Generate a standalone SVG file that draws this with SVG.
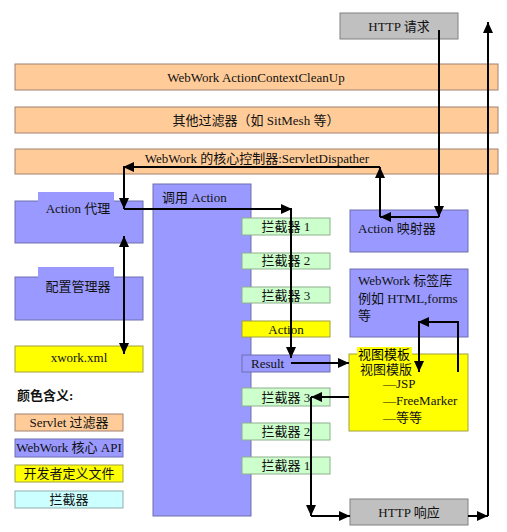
<svg xmlns="http://www.w3.org/2000/svg" width="507" height="532" viewBox="0 0 507 532">
<defs>
<marker id="ah" markerUnits="userSpaceOnUse" markerWidth="11" markerHeight="10" refX="11" refY="5" orient="auto-start-reverse"><path d="M0,0 L11,5 L0,10 z" fill="#000"/></marker>
<style>
text{font-family:"Liberation Serif","Noto Sans CJK SC",serif;font-size:13px;fill:#111}
.c{text-anchor:middle}
.or{fill:#FFCC99;stroke:#A08070;stroke-width:1}
.bl{fill:#9999FF;stroke:#6F6FAF;stroke-width:1}
.ye{fill:#FFFF00;stroke:#A0A040;stroke-width:1}
.gr{fill:#CCFFCC;stroke:#8FAF8F;stroke-width:1}
.cy{fill:#CCFFFF;stroke:#8FAFAF;stroke-width:1}
.gy{fill:#C0C0C0;stroke:#808080;stroke-width:1}
.cn path{fill:none;stroke:#000;stroke-width:2;marker-end:url(#ah)}
.sans{font-family:"Noto Sans CJK SC","Noto Sans",sans-serif}
</style>
</defs>
<rect width="507" height="532" fill="#fff"/>
<g id="http-req"><rect class="gy" x="340" y="13" width="118" height="26"/><text class="c" x="399" y="31">HTTP 请求</text></g>
<g id="cleanup"><rect class="or" x="15" y="64" width="483" height="26"/><text class="c" x="256" y="82">WebWork ActionContextCleanUp</text></g>
<g id="filters"><rect class="or" x="15" y="107" width="483" height="26"/><text class="c" x="256" y="125">其他过滤器（如 SitMesh 等）</text></g>
<g id="dispatcher"><rect class="or" x="15" y="149" width="483" height="25"/><text class="c" x="257" y="163">WebWork 的核心控制器:ServletDispather</text></g>
<g id="proxy"><rect class="bl" x="15" y="201" width="128" height="42"/><rect x="38" y="192" width="76" height="10" fill="#9999FF"/><text class="c" x="78" y="213">Action 代理</text></g>
<g id="config"><rect class="bl" x="15" y="277" width="128" height="43"/><rect x="38" y="267" width="76" height="11" fill="#9999FF"/><text class="c sans" x="78" y="291" font-size="15">配置管理器</text></g>
<g id="xwork"><rect class="ye" x="15" y="346" width="128" height="26"/><text class="c" x="79" y="362">xwork.xml</text></g>
<g id="invoke"><rect class="bl" x="153" y="184" width="98" height="332"/><text x="162" y="202">调用 Action</text></g>
<g id="i1a"><rect class="gr" x="242" y="218" width="88" height="17"/><text class="c" x="286" y="231">拦截器 1</text></g>
<g id="i2a"><rect class="gr" x="242" y="253" width="88" height="16"/><text class="c" x="286" y="265">拦截器 2</text></g>
<g id="i3a"><rect class="gr" x="242" y="287" width="88" height="16"/><text class="c" x="286" y="300">拦截器 3</text></g>
<g id="action"><rect class="ye" x="242" y="321" width="88" height="16"/><text class="c" x="286" y="334">Action</text></g>
<g id="result"><rect class="bl" x="242" y="355" width="88" height="17"/><text x="251" y="368">Result</text></g>
<g id="i3b"><rect class="gr" x="242" y="388" width="88" height="18"/><text class="c" x="286" y="402">拦截器 3</text></g>
<g id="i2b"><rect class="gr" x="242" y="423" width="88" height="17"/><text class="c" x="286" y="436">拦截器 2</text></g>
<g id="i1b"><rect class="gr" x="242" y="457" width="88" height="17"/><text class="c" x="286" y="470">拦截器 1</text></g>
<g id="mapper"><rect class="bl" x="350" y="210" width="118" height="42"/><text x="358" y="233">Action 映射器</text></g>
<g id="taglib"><rect class="bl" x="350" y="269" width="118" height="68"/><text x="358" y="285">WebWork 标签库</text><text x="358" y="303">例如 HTML,forms</text><text x="358" y="320">等</text></g>
<g id="view"><rect class="ye" x="349" y="354" width="119" height="77"/><text x="360" y="374">视图模版</text><rect x="357" y="347" width="55" height="14" fill="#FFFF00"/><text class="sans" x="358" y="359" font-size="13" style="fill:#000">视图模板</text><text x="383" y="388">—JSP</text><text x="383" y="405">—FreeMarker</text><text x="383" y="422">—等等</text></g>
<g id="http-resp"><rect class="gy" x="350" y="499" width="118" height="26"/><text class="c" x="409" y="517">HTTP 响应</text></g>
<g id="legend"><text x="17" y="400" font-weight="bold" font-size="12">颜色含义:</text>
<rect class="or" x="15" y="414" width="108" height="17"/><text class="c" x="69" y="427" font-size="12">Servlet 过滤器</text>
<rect class="bl" x="15" y="439" width="108" height="18"/><text class="c" x="69" y="452" font-size="12">WebWork 核心 API</text>
<rect class="ye" x="15" y="465" width="108" height="17"/><text class="c" x="69" y="478" font-size="12">开发者定义文件</text>
<rect class="cy" x="15" y="491" width="108" height="17"/><text class="c" x="69" y="504" font-size="12">拦截器</text></g>
<g id="connectors" class="cn">
<path d="M439,30 V217"/>
<path d="M439,217 H380"/>
<path d="M380,217 V167"/>
<path d="M380,167 H123"/>
<path d="M124,167 V209"/>
<path d="M124,209 H292"/>
<path d="M291,209 V358"/>
<path d="M291,363 H349"/>
<path d="M124,236 V354" style="marker-start:url(#ah)"/>
<path d="M458,372 V322 H418"/>
<path d="M419,322 V372"/>
<path d="M349,397 H311"/>
<path d="M311,397 V516"/>
<path d="M311,516 H350"/>
<path d="M468,516 H488"/>
<path d="M488,516 V22"/>
</g>
</svg>
